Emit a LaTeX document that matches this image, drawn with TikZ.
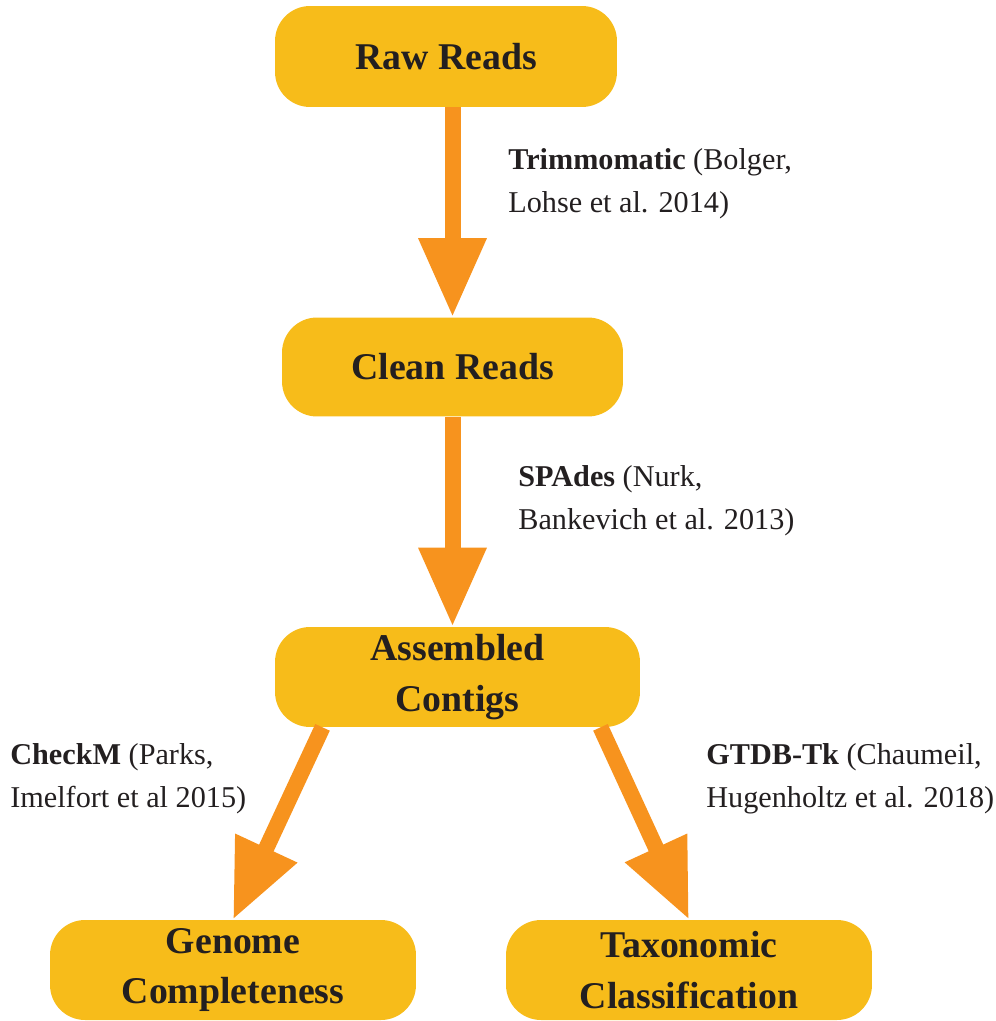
\documentclass[tikz,border=0pt]{standalone}
\usepackage{fontspec}
\setmainfont{Liberation Serif}
\usetikzlibrary{arrows.meta}
\definecolor{boxfill}{HTML}{F7BC1A}
\definecolor{arrowfill}{HTML}{F7931E}
\definecolor{inktext}{HTML}{231F20}
\tikzset{
  stepbox/.style = {fill=boxfill, rounded corners=0.7cm, minimum width=6.84cm,
    minimum height=2.02cm, align=center, text=inktext,
    font=\fontsize{21.5}{29}\selectfont\bfseries, inner sep=0pt},
  toolarrow/.style = {draw=arrowfill, line width=0.32cm,
    -{Triangle[length=1.58cm, width=1.28cm]}},
  toollabel/.style = {anchor=north west, align=left, inner sep=0pt, text=inktext,
    font=\fontsize{17.2}{24.5}\selectfont}
}
\begin{document}
\begin{tikzpicture}[x=0.02cm, y=-0.02cm]
  %Frame
  \useasboundingbox (0,0) rectangle (995,1021);
  %Boxes
  \node[stepbox] (raw) at (446,56.5) {Raw Reads};
  \node[stepbox, minimum width=6.82cm, minimum height=1.98cm] (clean) at (452.5,367) {Clean Reads};
  \node[stepbox, minimum width=7.3cm, minimum height=2cm] (contigs) at (457.5,677) {Assembled\\Contigs};
  \node[stepbox, minimum width=7.32cm, minimum height=2cm] (genome) at (233,970) {Genome\\Completeness};
  \node[stepbox, minimum width=7.32cm, minimum height=2cm] (taxo) at (689,970) {Taxonomic\\Classification};
  %Arrows
  \draw[toolarrow] (clean.north |- raw.south) -- (clean.north);
  \draw[toolarrow] (clean.south) -- (clean.south |- contigs.north);
  \coordinate (leftstart) at ([xshift=-2.7cm]contigs.south);
  \coordinate (rightstart) at ([xshift=2.86cm]contigs.south);
  \draw[toolarrow] (leftstart) -- (genome.north);
  \draw[toolarrow] (rightstart) -- (taxo.north);
  %Tool labels
  \node[toollabel] (lbltrim) at (508,148) {\textbf{Trimmomatic} (Bolger,\\Lohse et al. 2014)};
  \node[toollabel] (lblspades) at (518,465) {\textbf{SPAdes} (Nurk,\\Bankevich et al. 2013)};
  \node[toollabel] (lblcheckm) at (10,743) {\textbf{CheckM} (Parks,\\Imelfort et al 2015)};
  \node[toollabel] (lblgtdb) at (706,743) {\textbf{GTDB-Tk} (Chaumeil,\\Hugenholtz et al. 2018)};
\end{tikzpicture}
\end{document}
